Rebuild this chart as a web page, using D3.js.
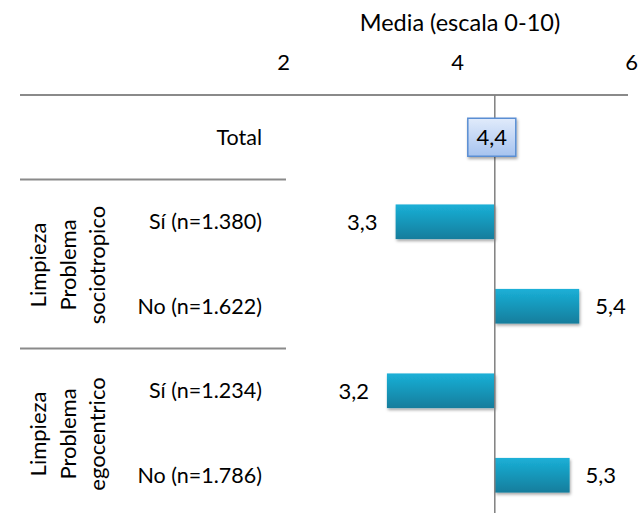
<!DOCTYPE html>
<html>
<head>
<meta charset="utf-8">
<script src="https://cdn.jsdelivr.net/npm/d3@7"></script>
<style>
  html, body { margin: 0; padding: 0; background: #fff; }
  svg { display: block; font-family: "Lato", sans-serif; }
</style>
</head>
<body>
<svg id="chart" width="641" height="513"></svg>
<script>
// ---- data ----
const categories = ["Total", "Sí (n=1.380)", "No (n=1.622)", "Sí (n=1.234)", "No (n=1.786)"];
const values = [4.4, 3.26, 5.37, 3.16, 5.26];
const referenceValue = 4.4;
const xTicks = [2, 4, 6];
const axisTitle = "Media (escala 0-10)";
const group1Lines = ["Limpieza", "Problema", "sociotropico"];
const group1Rows = ["Sí (n=1.380)", "No (n=1.622)"];
const group2Lines = ["Limpieza", "Problema", "egocentrico"];
const group2Rows = ["Sí (n=1.234)", "No (n=1.786)"];

const svg = d3.select("#chart");
const fontSize = 22;
const fmt = v => d3.format(".1f")(v).replace(".", ",");

const x = d3.scaleLinear().domain([2, 6]).range([286, 634]);
const y = d3.scaleBand().domain(categories).range([95, 517.5]).paddingInner(0.59).paddingOuter(0.295);
const step = y.step();
const gap = step - y.bandwidth();
const mid = c => y(c) + y.bandwidth() / 2;

const defs = svg.append("defs");
const g1 = defs.append("linearGradient").attr("id", "barGrad").attr("x1", 0).attr("y1", 0).attr("x2", 0).attr("y2", 1);
g1.append("stop").attr("offset", "0%").attr("stop-color", "#1bb0d7");
g1.append("stop").attr("offset", "100%").attr("stop-color", "#127d9c");
const g2 = defs.append("linearGradient").attr("id", "boxGrad").attr("x1", 0).attr("y1", 0).attr("x2", 0).attr("y2", 1);
g2.append("stop").attr("offset", "0%").attr("stop-color", "#e1ebfb");
g2.append("stop").attr("offset", "100%").attr("stop-color", "#a6c3ef");
const sh = defs.append("filter").attr("id", "shadow").attr("x", "-10%").attr("y", "-20%").attr("width", "130%").attr("height", "160%");
sh.append("feDropShadow").attr("dx", 1).attr("dy", 2).attr("stdDeviation", 1.5).attr("flood-color", "#000").attr("flood-opacity", 0.35);

// axis title
svg.append("text")
  .attr("x", x(4)).attr("y", 31)
  .attr("text-anchor", "middle")
  .attr("font-size", fontSize + 1.5).attr("fill", "#000")
  .text(axisTitle);

// top axis tick labels
const xAxis = d3.axisTop(x).tickValues(xTicks).tickSize(0).tickFormat(d3.format("d"));
const axG = svg.append("g").attr("transform", "translate(-3, 72.5)").call(xAxis);
axG.select(".domain").remove();
axG.selectAll("text").attr("font-size", fontSize).attr("font-family", "Lato").attr("fill", "#000");

// horizontal lines
const lineColor = "#8a8a8a";
svg.append("line")
  .attr("x1", 20).attr("x2", x(6) - 6).attr("y1", y.range()[0]).attr("y2", y.range()[0])
  .attr("stroke", lineColor).attr("stroke-width", 2);
const sepYs = [y(categories[1]) - gap / 2, y(categories[3]) - gap / 2];
svg.selectAll("line.sep").data(sepYs).join("line").attr("class", "sep")
  .attr("x1", 20).attr("x2", x(2)).attr("y1", d => d).attr("y2", d => d)
  .attr("stroke", lineColor).attr("stroke-width", 2);

// bars
const data = categories.map((c, i) => ({ c, v: values[i] }));
svg.selectAll("rect.bar").data(data.slice(1)).join("rect").attr("class", "bar")
  .attr("x", d => Math.min(x(d.v), x(referenceValue)))
  .attr("width", d => Math.abs(x(d.v) - x(referenceValue)))
  .attr("y", d => y(d.c))
  .attr("height", y.bandwidth())
  .attr("fill", "url(#barGrad)")
  .attr("filter", "url(#shadow)");

// vertical reference line
svg.append("line")
  .attr("x1", x(referenceValue)).attr("x2", x(referenceValue))
  .attr("y1", y.range()[0]).attr("y2", 513)
  .attr("stroke", "#7f7f7f").attr("stroke-width", 1.5);

// value labels
svg.selectAll("text.val").data(data.slice(1)).join("text").attr("class", "val")
  .attr("x", d => d.v < referenceValue ? x(d.v) - 18 : x(d.v) + 16)
  .attr("y", d => mid(d.c))
  .attr("dy", "0.36em")
  .attr("text-anchor", d => d.v < referenceValue ? "end" : "start")
  .attr("font-size", fontSize).attr("fill", "#000")
  .text(d => fmt(d.v));

// total label box
const tot = data[0];
const bw = 48, bh = 38;
const cx = x(tot.v) - 3, cy = mid(tot.c);
svg.append("rect")
  .attr("x", cx - bw / 2).attr("y", cy - bh / 2).attr("width", bw).attr("height", bh)
  .attr("fill", "url(#boxGrad)").attr("stroke", "#5a8ed3").attr("stroke-width", 1.5)
  .attr("filter", "url(#shadow)");
svg.append("text")
  .attr("x", cx).attr("y", cy).attr("dy", "0.36em")
  .attr("text-anchor", "middle")
  .attr("font-size", fontSize).attr("fill", "#000")
  .text(fmt(tot.v));

// category labels
svg.selectAll("text.cat").data(categories).join("text").attr("class", "cat")
  .attr("x", 262)
  .attr("y", d => mid(d)).attr("dy", "0.36em")
  .attr("text-anchor", "end")
  .attr("font-size", fontSize - 0.5).attr("fill", "#000")
  .text(d => d);

// group labels (rotated)
function groupLabel(lines, rows) {
  const top = y(rows[0]) - gap / 2;
  const bottom = y(rows[rows.length - 1]) + y.bandwidth() + gap / 2;
  const m = (top + bottom) / 2 + 1;
  const t = svg.append("text")
    .attr("transform", `translate(0, ${m}) rotate(-90)`)
    .attr("text-anchor", "middle")
    .attr("font-size", fontSize).attr("fill", "#000");
  lines.forEach((l, i) => {
    t.append("tspan").attr("x", 0).attr("y", 46 + i * 29.5).text(l);
  });
}
groupLabel(group1Lines, group1Rows);
groupLabel(group2Lines, group2Rows);
</script>
</body>
</html>
